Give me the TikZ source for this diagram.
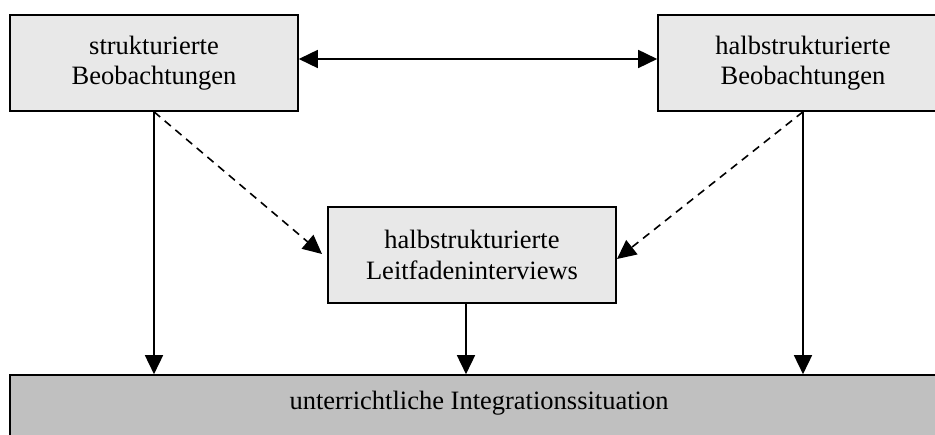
\documentclass[tikz,border=0pt]{standalone}
\usepackage{fontspec}
\setmainfont{Liberation Serif}
\usetikzlibrary{arrows.meta}
\definecolor{boxgray}{HTML}{E8E8E8}
\definecolor{basegray}{HTML}{C0C0C0}
\begin{document}
\begin{tikzpicture}[x=1pt,y=-1pt,
  lbl/.style={font=\fontsize{26.5}{30.5}\selectfont, align=center},
  box/.style={lbl, draw=black, line width=1.6pt, fill=boxgray,
    minimum width=288pt, minimum height=96pt, inner sep=0pt},
  basebox/.style={draw=black, line width=1.6pt, fill=basegray, inner sep=0pt},
  link/.style={line width=1.6pt, -{Triangle[length=19pt,width=18pt]}},
  both/.style={line width=1.6pt, {Triangle[length=19pt,width=18pt]}-{Triangle[length=19pt,width=18pt]}},
  weak/.style={link, dash pattern=on 8pt off 6pt}]
\useasboundingbox (0,0) rectangle (935,435);
\clip (0,0) rectangle (935,435);

% boxes
\node[box] (sb) at (154,63) {strukturierte\\Beobachtungen};
\node[box, minimum width=290pt] (hb) at (803,63) {halbstrukturierte\\Beobachtungen};
\node[box] (li) at (472,255) {halbstrukturierte\\Leitfadeninterviews};
\node[basebox, minimum width=950pt, minimum height=85pt] (us) at (485,417.5) {};
\node[lbl, anchor=base] (ustext) at (479,410) {unterrichtliche Integrationssituation};

% end points of the dashed links
\coordinate (lin) at (322,254);
\coordinate (rin) at (617,259);

% connectors
\draw[both] ([yshift=4pt]sb.east) -- ([yshift=4pt]hb.west);
\draw[link] (sb.south) -- (sb.south |- us.north);
\draw[link] (hb.south) -- (hb.south |- us.north);
\draw[link] ([xshift=-6pt]li.south) -- ([xshift=-6pt]li.south |- us.north);
\draw[weak] (sb.south) -- (lin);
\draw[weak] (hb.south) -- (rin);
\end{tikzpicture}
\end{document}
